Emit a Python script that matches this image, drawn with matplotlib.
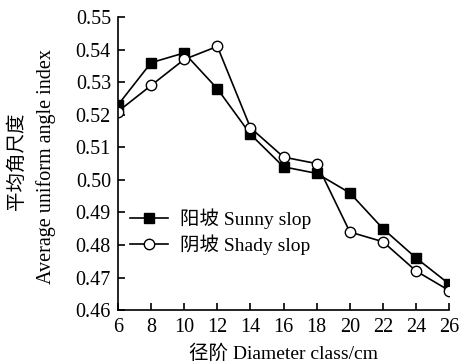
import matplotlib.pyplot as plt
import numpy as np

plt.rcParams['font.family'] = ['Liberation Serif', 'Noto Sans CJK SC']
plt.rcParams['font.size'] = 14

diameter = [6, 8, 10, 12, 14, 16, 18, 20, 22, 24, 26]
sunny = [0.523, 0.536, 0.539, 0.528, 0.514, 0.504, 0.502, 0.496, 0.485, 0.476, 0.468]
shady = [0.521, 0.529, 0.537, 0.541, 0.516, 0.507, 0.505, 0.484, 0.481, 0.472, 0.466]

fig = plt.figure(figsize=(4.68, 3.64), dpi=100)
ax = fig.add_axes([0.252, 0.148, 0.708, 0.805])

ax.plot(diameter, sunny, '-s', color='black', lw=1.2, ms=6.5,
        mfc='black', label='阳坡 Sunny slop')
ax.plot(diameter, shady, '-o', color='black', lw=1.2, ms=7.5,
        mfc='white', label='阴坡 Shady slop')

ax.set_xlim(6, 26)
ax.set_ylim(0.46, 0.55)
ax.set_xticks(diameter)
ax.set_yticks(np.arange(0.46, 0.5501, 0.01))
ax.yaxis.set_major_formatter(plt.FormatStrFormatter('%.2f'))
ax.tick_params(direction='in', length=5, width=1.2, labelsize=14.5)
ax.tick_params(axis='x', pad=6)
ax.tick_params(axis='y', pad=5)
for s in ['top', 'right']:
    ax.spines[s].set_visible(False)
for s in ['left', 'bottom']:
    ax.spines[s].set_linewidth(1.2)

ax.set_xlabel('径阶 Diameter class/cm', fontsize=14, labelpad=5)
fig.text(16 / 468, 1 - 161 / 364, '平均角尺度', rotation=90,
         ha='center', va='center', fontsize=14)
fig.text(46 / 468, 1 - 167 / 364, 'Average uniform angle index', rotation=90,
         ha='center', va='center', fontsize=14.5)

ax.legend(loc='lower left', bbox_to_anchor=(0.0, 0.15), frameon=False,
          fontsize=14, handlelength=2.0, handletextpad=0.6, labelspacing=0.25,
          borderaxespad=0.2)

fig.savefig('out.png', dpi=100)
